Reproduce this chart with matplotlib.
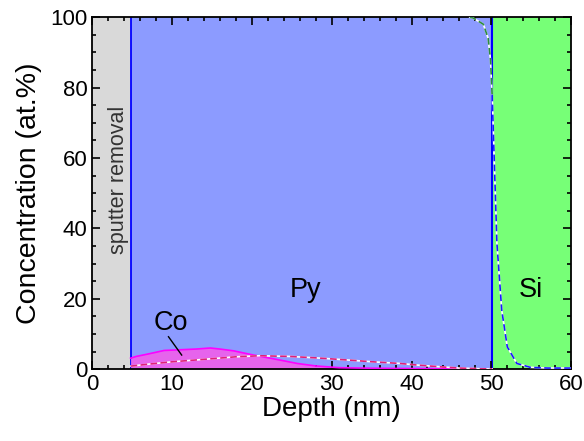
import matplotlib
matplotlib.use("Agg")
import matplotlib.pyplot as plt
from matplotlib.ticker import MultipleLocator

plt.rcParams['font.family'] = ['Liberation Sans', 'DejaVu Sans']

# Layer boundaries (nm)
sputter_end = 4.8
py_end = 50.1
x_max = 60

# Co fill profile (at.%)
co_depth = [4.8, 5.5, 7.0, 9.0, 11.0, 13.0, 14.8, 16.0, 17.7, 20.2, 23.0, 25.7, 28.0, 31.0, 35.0, 40.0, 45.0, 50.1]
co_conc = [3.1, 3.6, 4.3, 5.3, 5.5, 5.7, 6.0, 5.7, 5.2, 4.0, 2.8, 1.6, 0.9, 0.4, 0.25, 0.15, 0.1, 0.05]

# Second minor profile (pink dashed)
cr_depth = [4.8, 7.0, 10.1, 13.0, 15.2, 18.0, 21.0, 24.8, 28.0, 31.0, 35.0, 38.6, 41.0, 43.6, 46.0, 48.6, 50.1]
cr_conc = [0.85, 1.4, 2.1, 2.6, 3.0, 3.5, 3.8, 3.6, 3.2, 2.75, 2.1, 1.6, 1.1, 0.66, 0.3, 0.1, 0.05]

# Py profile near interface (green dashed upper, blue dashed lower)
py_depth = [47.3, 47.7, 49.0, 49.6, 49.9, 50.1]
py_conc = [100, 99.8, 98, 94, 87.8, 78]
si_depth = [50.1, 50.3, 50.7, 51.3, 52.0, 53.2, 54.9, 57.0, 60.0]
si_conc = [78, 64, 35.7, 16.8, 6.3, 1.6, 0.5, 0.3, 0.3]

fig = plt.figure(figsize=(5.84, 4.41), dpi=100)
ax = fig.add_axes([0.158, 0.163, 0.820, 0.798])

ax.axvspan(0, sputter_end, color='#d9d9d9', zorder=0, lw=0)
ax.axvspan(sputter_end, py_end, color='#8c9bff', zorder=0, lw=0)
ax.axvspan(py_end, x_max, color='#77ff77', zorder=0, lw=0)
ax.axvline(sputter_end, color='#0000ff', lw=1.3, zorder=1)
ax.axvline(py_end, color='#0000ff', lw=1.5, zorder=1)

ax.fill_between(co_depth, 0, co_conc, color='#e664ec', lw=0, zorder=2)
ax.plot(co_depth, co_conc, color='#ff00ff', lw=1.2, zorder=3)

def dashed(x, y, color):
    ax.plot(x, y, color='white', lw=1.2, zorder=4)
    ax.plot(x, y, color=color, lw=1.2, dashes=(4, 2), zorder=5)

dashed(cr_depth, cr_conc, '#e0207a')
dashed(py_depth, py_conc, '#2e8b3e')
dashed(si_depth, si_conc, '#1a1aff')

ax.set_xlim(0, x_max)
ax.set_ylim(0, 100)
ax.xaxis.set_major_locator(MultipleLocator(10))
ax.xaxis.set_minor_locator(MultipleLocator(2))
ax.yaxis.set_major_locator(MultipleLocator(20))
ax.yaxis.set_minor_locator(MultipleLocator(5))
ax.tick_params(which='both', direction='in', top=True, right=True, labelsize=16, width=1.2)
ax.tick_params(which='major', length=6)
ax.tick_params(which='minor', length=3)
for s in ax.spines.values():
    s.set_linewidth(1.3)

ax.set_xlabel('Depth (nm)', fontsize=20, labelpad=1)
ax.set_ylabel('Concentration (at.%)', fontsize=20.5, labelpad=6)

ax.text(26.7, 22.4, 'Py', fontsize=19.5, ha='center', va='center')
ax.text(54.9, 22.4, 'Si', fontsize=19.5, ha='center', va='center')
ax.text(3.3, 53.7, 'sputter removal', fontsize=15.5, rotation=90, ha='center', va='center', color='#333333')
ax.text(9.8, 13.2, 'Co', fontsize=19.5, ha='center', va='center')
ax.plot([9.55, 11.2], [9.2, 4.0], color='black', lw=1, zorder=6)

fig.savefig('out.png', dpi=100)
